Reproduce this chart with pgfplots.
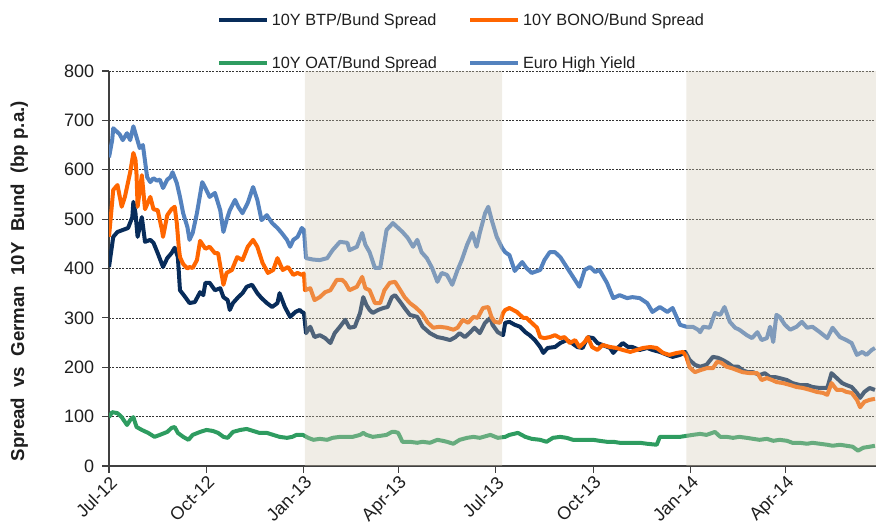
\documentclass[border=0pt]{standalone}
\usepackage{pgfplots}
\pgfplotsset{compat=1.18}
\usepackage{pgfplotstable}
\usepackage{fontspec}
\setmainfont{Liberation Sans}
\definecolor{btp}{RGB}{8,44,90}
\definecolor{bono}{RGB}{255,102,0}
\definecolor{oat}{RGB}{46,156,96}
\definecolor{hy}{RGB}{84,130,190}
\definecolor{shade}{RGB}{212,204,182}
\definecolor{txt}{RGB}{30,30,30}

% x = days since 1 Jul 2012
\pgfplotstableread{
d v
0 625
3 660
4 684
7 678
10 672
13 660
17 674
20 660
23 688
26 666
29 644
32 650
36 585
39 575
42 583
45 578
48 580
51 563
55 580
58 585
60 595
64 573
67 545
70 512
74 484
76 458
79 472
83 512
88 575
91 563
95 545
100 553
105 518
108 474
111 498
114 518
119 539
122 525
126 512
131 533
136 565
140 539
144 498
149 508
154 492
159 482
163 472
168 458
171 444
174 458
178 464
182 482
184 478
186 421
193 418
199 417
206 421
211 437
218 454
225 452
227 437
234 444
239 472
242 448
246 433
251 401
256 401
262 478
268 492
273 482
277 474
282 462
287 444
291 458
295 433
300 421
305 401
310 373
314 391
319 387
324 367
329 397
333 417
338 448
343 472
347 444
350 472
355 512
358 525
361 500
366 464
371 442
374 433
378 427
383 395
390 413
394 401
399 391
407 397
411 417
416 433
421 433
426 423
432 403
438 383
444 363
449 397
454 403
459 393
463 397
470 371
476 340
482 346
489 340
494 342
501 340
508 330
513 312
520 322
527 312
532 320
539 286
545 282
551 282
556 276
558 271
561 282
567 280
572 310
577 306
581 322
586 292
591 280
595 276
602 265
607 259
612 271
616 255
621 259
624 282
627 251
630 306
633 302
638 286
643 276
649 282
654 292
659 280
664 282
671 271
678 259
683 280
690 261
696 255
701 249
706 225
711 231
715 225
720 235
723 239
}\hydata

\pgfplotstableread{
d v
0 464
4 559
8 569
12 525
15 545
18 575
20 595
23 634
25 620
26 590
27 525
31 589
34 520
39 545
42 520
46 518
50 478
51 464
55 508
59 520
62 525
64 492
66 440
67 423
70 409
74 400
76 403
79 401
83 417
86 456
91 440
95 444
100 431
103 431
108 367
111 391
116 397
121 423
126 417
131 444
136 458
140 444
145 411
150 391
155 397
159 421
164 397
169 403
174 387
178 391
182 387
184 390
185 356
190 360
194 336
199 342
204 352
209 356
215 377
220 377
223 371
227 356
234 363
239 383
242 360
246 356
251 330
256 330
260 356
265 371
270 373
275 356
279 342
284 330
289 322
295 310
301 290
306 280
312 282
319 280
325 276
329 280
334 296
339 290
344 302
348 300
353 320
358 322
361 302
364 292
369 290
372 310
374 316
378 320
385 312
391 300
394 300
399 290
404 280
407 261
411 259
416 261
421 265
426 259
430 261
435 249
440 255
444 241
449 251
452 261
456 241
461 235
466 245
473 241
479 239
485 235
492 231
498 235
504 239
511 241
517 239
523 229
529 225
536 229
542 231
545 221
548 200
553 190
558 194
564 198
570 198
574 211
578 209
583 201
588 198
593 194
598 190
605 188
612 188
616 174
621 178
626 174
630 170
636 168
643 164
649 160
655 158
662 154
668 150
674 148
678 144
682 168
687 154
692 154
696 150
701 148
706 134
709 119
713 130
718 134
723 136
}\bonodata

\pgfplotstableread{
d v
0 403
4 464
8 474
13 478
18 482
22 504
23 535
25 512
27 464
31 504
34 454
39 458
42 452
46 431
51 403
55 421
59 431
62 442
65 423
67 356
72 342
76 330
81 332
86 352
89 346
91 371
95 371
100 356
105 360
108 342
112 336
114 316
117 330
122 342
126 350
130 363
135 367
140 350
144 340
149 330
154 322
159 330
161 350
166 322
171 302
176 312
180 316
182 312
184 310
186 269
190 282
194 261
199 265
204 259
209 249
213 269
218 282
223 296
227 280
232 282
237 310
240 342
243 326
246 316
249 310
254 316
259 320
263 322
267 342
270 346
275 332
279 320
284 306
291 302
296 282
303 269
310 261
315 259
322 255
327 261
331 269
336 261
341 271
345 280
350 269
355 290
360 300
362 286
367 271
372 265
374 290
378 292
383 286
388 282
393 271
397 265
402 255
407 241
410 229
414 239
421 241
426 249
432 255
437 249
442 241
447 239
452 261
457 259
461 249
466 245
473 239
476 229
480 239
485 249
490 241
494 241
501 235
508 239
513 235
520 231
527 225
532 221
539 225
544 231
548 215
553 205
558 201
564 205
570 221
575 219
579 215
584 209
589 201
594 201
598 194
603 190
608 190
614 184
619 188
624 180
629 180
633 178
640 174
645 168
652 164
659 164
664 160
671 158
678 158
682 188
687 178
692 168
696 164
701 160
706 148
709 138
713 150
718 158
723 154
}\btpdata

\pgfplotstableread{
d v
0 99
3 109
8 107
12 99
17 83
20 93
23 99
26 79
31 73
37 67
43 59
48 63
55 69
59 77
62 79
65 67
70 59
75 53
79 63
86 69
92 73
98 71
103 67
108 59
112 57
117 69
124 73
130 75
136 71
142 67
149 67
155 63
161 59
168 57
173 59
177 63
183 63
188 57
193 53
199 55
206 53
211 57
218 59
225 59
230 59
237 63
240 67
243 63
249 59
256 61
262 63
267 69
270 69
273 67
277 49
284 49
291 47
296 49
303 47
310 53
315 51
319 49
325 45
331 53
338 57
344 59
350 57
360 63
367 57
374 59
378 63
386 67
393 59
399 55
407 53
413 49
419 57
426 59
432 57
438 53
444 53
451 53
457 53
463 51
470 49
476 49
482 47
489 47
494 47
501 47
508 45
517 43
520 59
529 59
539 59
545 61
551 63
558 65
564 63
572 69
577 59
583 59
589 57
595 59
602 57
608 55
614 53
621 55
627 51
633 53
640 51
645 47
652 47
659 45
664 47
671 45
678 43
683 41
690 43
696 41
702 39
707 31
712 37
718 39
723 41
}\oatdata

\begin{document}
\begin{tikzpicture}
\begin{axis}[
  scale only axis,
  width=575.25pt, height=296.25pt,
  xmin=0, xmax=724, ymin=0, ymax=800,
  axis x line*=bottom, axis y line*=left,
  axis line style={draw=black!75, line width=0.8pt},
  xtick={0,92,184,273,365,457,549,639},
  xticklabels={Jul-12,Oct-12,Jan-13,Apr-13,Jul-13,Oct-13,Jan-14,Apr-14},
  ytick={0,100,...,800},
  tick align=outside, major tick length=5pt,
  tick style={draw=black!75, line width=0.8pt},
  ymajorgrids,
  major grid style={draw=black!80, line width=0.5pt, dash pattern=on 1.5pt off 1pt},
  /pgf/number format/assume math mode=true,
  ticklabel style={font=\fontsize{13.5}{15}\selectfont, text=txt},
  xticklabel style={rotate=45, anchor=north east, inner sep=1pt},
  yticklabel style={inner sep=2pt, xshift=-4pt},
  ylabel={\textbf{Spread\ \ vs\ \ German\ \ 10Y\ \ Bund\ \ (bp p.a.)}},
  ylabel style={font=\fontsize{14}{16}\selectfont, text=txt, at={(axis description cs:-0.117,0.468)}, anchor=center, rotate=0},
  legend columns=2,
  legend style={at={(axis description cs:0.1355,1.16)}, anchor=north west, draw=none, fill=none,
    font=\fontsize{12.2}{14}\selectfont, text=txt, row sep=18pt,
    /tikz/every even column/.append style={column sep=21.5pt}},
  legend cell align=left,
  legend image code/.code={\draw[#1, line width=3pt] (0pt,0pt) -- (36pt,0pt);},
  every axis plot/.append style={line width=3pt, line join=round},
  clip=true,
]
\addplot[btp] table[x=d,y=v] {\btpdata};
\addlegendentry{10Y BTP/Bund Spread}
\addplot[bono] table[x=d,y=v] {\bonodata};
\addlegendentry{10Y BONO/Bund Spread}
\addplot[oat] table[x=d,y=v] {\oatdata};
\addlegendentry{10Y OAT/Bund Spread}
\addplot[hy] table[x=d,y=v] {\hydata};
\addlegendentry{Euro High Yield}
\addplot[draw=none, fill=shade, fill opacity=0.35, forget plot] coordinates {(185,0) (371,0) (371,800) (185,800)} \closedcycle;
\addplot[draw=none, fill=shade, fill opacity=0.35, forget plot] coordinates {(545,0) (724,0) (724,800) (545,800)} \closedcycle;
\coordinate (pSW) at (rel axis cs:0,0);
\coordinate (pNE) at (rel axis cs:1,1);
\end{axis}
\pgfresetboundingbox
\path[use as bounding box] ([shift={(-81.75pt,-48.75pt)}]pSW) rectangle ([shift={(0pt,53.25pt)}]pNE);
\end{tikzpicture}
\end{document}
